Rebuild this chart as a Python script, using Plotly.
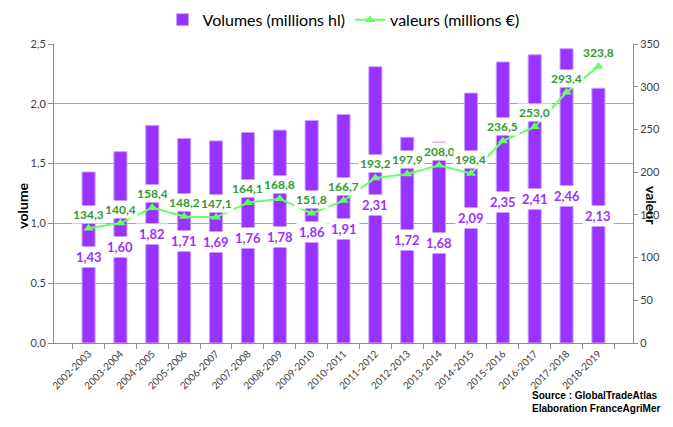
import plotly.graph_objects as go

# campagnes
campagnes = ['2002-2003', '2003-2004', '2004-2005', '2005-2006', '2006-2007',
             '2007-2008', '2008-2009', '2009-2010', '2010-2011', '2011-2012',
             '2012-2013', '2013-2014', '2014-2015', '2015-2016', '2016-2017',
             '2017-2018', '2018-2019']
# volumes (millions hl)
volumes = [1.43, 1.60, 1.82, 1.71, 1.69, 1.76, 1.78, 1.86, 1.91, 2.31,
           1.72, 1.68, 2.09, 2.35, 2.41, 2.46, 2.13]
# valeurs (millions €)
valeurs = [134.3, 140.4, 158.4, 148.2, 147.1, 164.1, 168.8, 151.8, 166.7, 193.2,
           197.9, 208.0, 198.4, 236.5, 253.0, 293.4, 323.8]

VIOLET = '#9933FF'
VERT = '#66FF66'
VERT_FONCE = '#339933'
POLICE = 'Lato'


def fr(v, n):
    return '{:.{}f}'.format(v, n).replace('.', ',')


fig = go.Figure()

# barres des volumes
fig.add_trace(go.Bar(x=campagnes, y=volumes, name='Volumes (millions hl)',
                     width=0.41, yaxis='y',
                     marker={'color': VIOLET, 'line': {'color': '#C8A0FF', 'width': 1}}))
# courbe des valeurs
fig.add_trace(go.Scatter(x=campagnes, y=valeurs, name='valeurs (millions €)',
                         yaxis='y2', mode='lines+markers',
                         line={'color': VERT, 'width': 2},
                         marker={'symbol': 'triangle-up', 'size': 9, 'color': VERT}))

# étiquettes
annots = []
for c, v in zip(campagnes, volumes):
    annots.append(dict(x=c, y=v / 2, xref='x', yref='y', text='<b>' + fr(v, 2) + '</b>',
                       showarrow=False, bgcolor='white', borderpad=2,
                       font={'family': POLICE, 'size': 13, 'color': VIOLET}))
for c, v in zip(campagnes, valeurs):
    annots.append(dict(x=c, y=v, xref='x', yref='y2', text='<b>' + fr(v, 1) + '</b>',
                       showarrow=False, bgcolor='white', borderpad=1, yshift=14,
                       font={'family': POLICE, 'size': 12, 'color': VERT_FONCE}))

# titres des axes
annots.append(dict(x=-0.073, y=0.46, xref='paper', yref='paper', text='<b>volume</b>',
                   textangle=-90, showarrow=False,
                   font={'family': POLICE, 'size': 14, 'color': 'black'}))
annots.append(dict(x=1.05, y=0.46, xref='paper', yref='paper', text='<b>valeur</b>',
                   textangle=90, showarrow=False,
                   font={'family': POLICE, 'size': 14, 'color': 'black'}))
# source
annots.append(dict(x=1.05, y=-0.244, xref='paper', yref='paper', xanchor='right',
                   align='left', showarrow=False,
                   text='<b>Source : GlobalTradeAtlas<br>Elaboration FranceAgriMer</b>',
                   font={'family': 'Liberation Sans', 'size': 10, 'color': 'black'}))

# la page ajoute 8 px de marge autour du graphique
fig.update_layout(
    width=665, height=419,
    margin={'l': 46, 'r': 40, 't': 36, 'b': 84},
    paper_bgcolor='white', plot_bgcolor='white',
    separators=', ',
    font={'family': POLICE, 'size': 10, 'color': '#404040'},
    showlegend=True,
    legend={'orientation': 'h', 'x': 0.5, 'xanchor': 'center',
            'yref': 'container', 'y': 0.972, 'yanchor': 'middle',
            'font': {'family': POLICE, 'size': 16, 'color': 'black'}},
    xaxis={'type': 'category', 'tickangle': -45, 'showgrid': False,
           'showline': True, 'linecolor': '#8C8C8C', 'ticks': 'outside',
           'tickson': 'boundaries', 'ticklen': 5, 'tickcolor': '#8C8C8C',
           'tickfont': {'size': 10}, 'automargin': False},
    yaxis={'range': [0, 2.5], 'dtick': 0.5, 'tickformat': '.1f',
           'showgrid': True, 'gridcolor': '#A6A6A6', 'zeroline': False,
           'showline': True, 'linecolor': '#8C8C8C', 'ticks': 'outside',
           'ticklen': 5, 'tickcolor': '#8C8C8C', 'tickfont': {'size': 11},
           'automargin': False},
    yaxis2={'range': [0, 350], 'dtick': 50, 'overlaying': 'y', 'side': 'right',
            'showgrid': False, 'zeroline': False,
            'showline': True, 'linecolor': '#8C8C8C', 'ticks': 'outside',
            'ticklen': 4, 'tickcolor': '#8C8C8C', 'tickfont': {'size': 11},
            'automargin': False},
    annotations=annots,
)

fig.write_html('out.html')
